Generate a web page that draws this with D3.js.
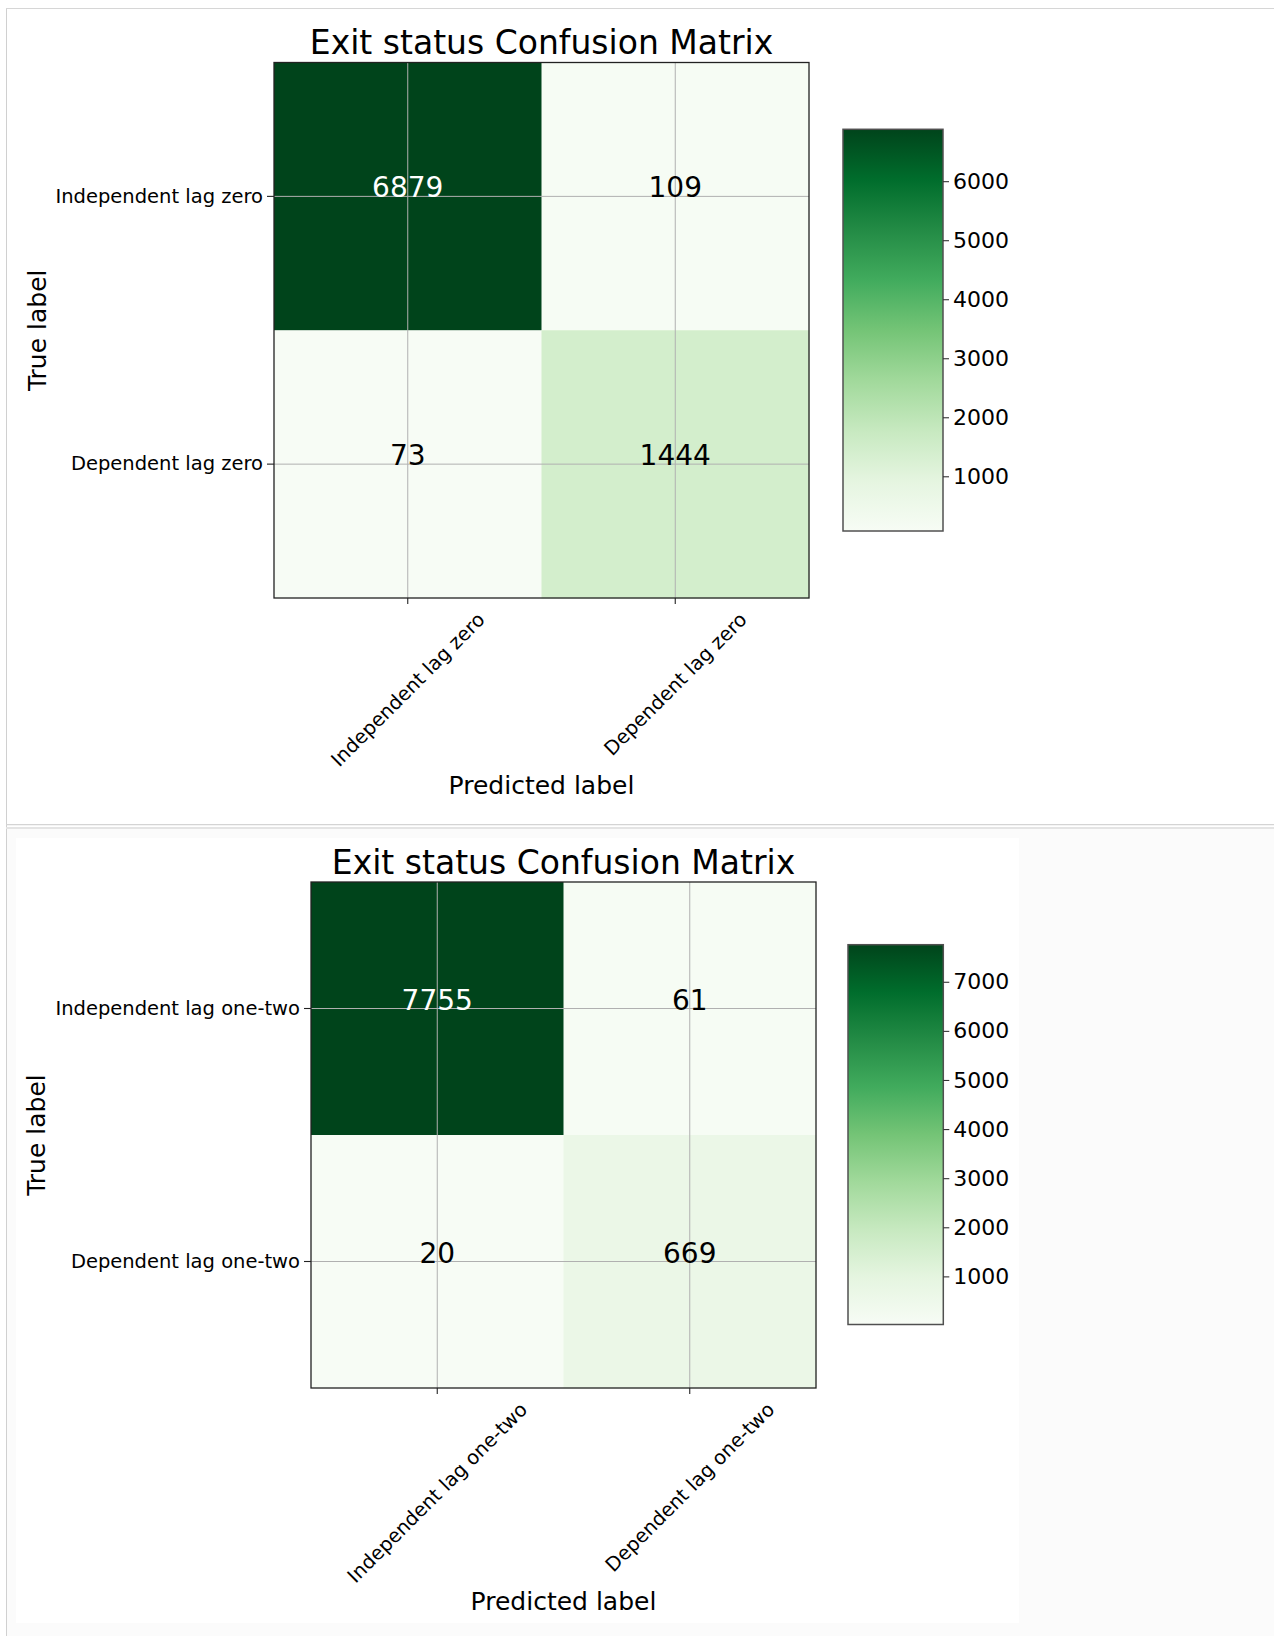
<!DOCTYPE html>
<html>
<head>
<meta charset="utf-8">
<script src="https://cdn.jsdelivr.net/npm/d3@7"></script>
<style>
  html, body { margin: 0; padding: 0; background: #ffffff; }
  svg { display: block; }
  text { font-family: "DejaVu Sans", sans-serif; }
</style>
</head>
<body>
<script>
// ---------------- data ----------------
const titleA = "Exit status Confusion Matrix";
const classesA = ["Independent lag zero", "Dependent lag zero"];
const matrixA = [[6879, 109], [73, 1444]];
const cbarTicksA = [1000, 2000, 3000, 4000, 5000, 6000];

const titleB = "Exit status Confusion Matrix";
const classesB = ["Independent lag one-two", "Dependent lag one-two"];
const matrixB = [[7755, 61], [20, 669]];
const cbarTicksB = [1000, 2000, 3000, 4000, 5000, 6000, 7000];

const xAxisLabel = "Predicted label";
const yAxisLabel = "True label";

// matplotlib "Greens" colormap anchor colours
const greens = ["#f7fcf5", "#e5f5e0", "#c7e9c0", "#a1d99b", "#74c476", "#41ab5d", "#238b45", "#006d2c", "#00441b"];

// ---------------- layout ----------------
const W = 1274, H = 1636;
const layoutA = { x0: 274, x1: 809, y0: 62.5, y1: 598, cb: { x0: 843, x1: 943, y0: 129.3, y1: 531 } };
const layoutB = { x0: 311, x1: 816, y0: 882, y1: 1388, cb: { x0: 848, x1: 943.3, y0: 944.7, y1: 1324.5 } };

const svg = d3.select("body").append("svg").attr("width", W).attr("height", H);
const defs = svg.append("defs");

// page frame
svg.append("rect").attr("x", 0).attr("y", 0).attr("width", W).attr("height", H).attr("fill", "#ffffff");
svg.append("rect").attr("x", 7).attr("y", 829).attr("width", W - 7).attr("height", H - 829).attr("fill", "#fbfbfb");
svg.append("rect").attr("x", 16).attr("y", 838).attr("width", 1003).attr("height", 785).attr("fill", "#ffffff");
svg.append("line").attr("x1", 6.5).attr("x2", 6.5).attr("y1", 8).attr("y2", H).attr("stroke", "#d0d0d0").attr("stroke-width", 1);
svg.append("line").attr("x1", 6).attr("x2", W).attr("y1", 8.5).attr("y2", 8.5).attr("stroke", "#d6d6d6").attr("stroke-width", 1);
svg.append("line").attr("x1", 6).attr("x2", W).attr("y1", 824.6).attr("y2", 824.6).attr("stroke", "#d4d4d4").attr("stroke-width", 1.4);
svg.append("line").attr("x1", 6).attr("x2", W).attr("y1", 828).attr("y2", 828).attr("stroke", "#e4e4e4").attr("stroke-width", 2);

function drawPanel(id, title, classes, matrix, cbarTicks, L) {
  const g = svg.append("g");
  const flat = matrix.flat();
  const vmin = d3.min(flat), vmax = d3.max(flat);
  const thresh = vmax / 2;

  const color = d3.scaleLinear()
    .domain(greens.map((_, i) => vmin + i * (vmax - vmin) / (greens.length - 1)))
    .range(greens)
    .interpolate(d3.interpolateRgb);

  const x = d3.scaleBand().domain(classes).range([L.x0, L.x1]).padding(0);
  const y = d3.scaleBand().domain(classes).range([L.y0, L.y1]).padding(0);

  const cells = [];
  matrix.forEach((row, i) => row.forEach((v, j) => cells.push({ t: classes[i], p: classes[j], v })));

  // cells
  g.selectAll("rect.cell").data(cells).enter().append("rect")
    .attr("class", "cell")
    .attr("x", d => x(d.p)).attr("y", d => y(d.t))
    .attr("width", x.bandwidth() + 0.5).attr("height", y.bandwidth() + 0.5)
    .attr("fill", d => color(d.v));

  // grid lines
  g.selectAll("line.gx").data(classes).enter().append("line")
    .attr("x1", d => x(d) + x.bandwidth() / 2).attr("x2", d => x(d) + x.bandwidth() / 2)
    .attr("y1", L.y0).attr("y2", L.y1)
    .attr("stroke", "#b0b0b0").attr("stroke-width", 1);
  g.selectAll("line.gy").data(classes).enter().append("line")
    .attr("y1", d => y(d) + y.bandwidth() / 2).attr("y2", d => y(d) + y.bandwidth() / 2)
    .attr("x1", L.x0).attr("x2", L.x1)
    .attr("stroke", "#b0b0b0").attr("stroke-width", 1);

  // values
  g.selectAll("text.val").data(cells).enter().append("text")
    .attr("x", d => x(d.p) + x.bandwidth() / 2)
    .attr("y", d => y(d.t) + y.bandwidth() / 2 + 1)
    .attr("text-anchor", "middle")
    .attr("font-size", 28)
    .attr("fill", d => d.v > thresh ? "#ffffff" : "#000000")
    .text(d => d.v);

  // frame
  g.append("rect").attr("x", L.x0).attr("y", L.y0)
    .attr("width", L.x1 - L.x0).attr("height", L.y1 - L.y0)
    .attr("fill", "none").attr("stroke", "#222").attr("stroke-width", 1.3);

  // left axis
  const tickFs = 19.5;
  const ay = g.append("g").attr("transform", `translate(${L.x0},0)`)
    .call(d3.axisLeft(y).tickSize(7).tickPadding(4));
  ay.select(".domain").remove();
  ay.selectAll(".tick line").attr("stroke", "#222").attr("stroke-width", 1.1);
  ay.selectAll(".tick text").attr("font-size", tickFs).attr("fill", "#000").attr("font-family", "DejaVu Sans");
  let maxYW = 0;
  ay.selectAll(".tick text").each(function () { maxYW = Math.max(maxYW, this.getComputedTextLength()); });

  // bottom axis
  const ax = g.append("g").attr("transform", `translate(0,${L.y1})`)
    .call(d3.axisBottom(x).tickSize(6).tickPadding(4));
  ax.select(".domain").remove();
  ax.selectAll(".tick line").attr("stroke", "#222").attr("stroke-width", 1.1);
  let maxBottom = 0;
  ax.selectAll(".tick text").each(function () {
    const t = d3.select(this)
      .attr("font-size", tickFs).attr("fill", "#000").attr("font-family", "DejaVu Sans")
      .attr("text-anchor", "middle").attr("y", 0).attr("dy", "0.35em");
    const w = this.getComputedTextLength();
    const h = (w / 2 + 0.37 * tickFs) * Math.SQRT1_2;
    t.attr("transform", `translate(0,${13 + h}) rotate(-45)`);
    maxBottom = Math.max(maxBottom, 13 + 2 * h);
  });

  // title
  g.append("text").attr("x", (L.x0 + L.x1) / 2).attr("y", L.y0 - 8.5)
    .attr("text-anchor", "middle").attr("font-size", 33).attr("fill", "#000")
    .text(title);

  // axis labels
  g.append("text").attr("x", (L.x0 + L.x1) / 2).attr("y", L.y1 + maxBottom + 26)
    .attr("text-anchor", "middle").attr("font-size", 25).attr("fill", "#000")
    .text(xAxisLabel);
  const ylx = L.x0 - 11 - maxYW - 10;
  g.append("text")
    .attr("transform", `translate(${ylx},${(L.y0 + L.y1) / 2}) rotate(-90)`)
    .attr("text-anchor", "middle").attr("font-size", 25).attr("fill", "#000")
    .text(yAxisLabel);

  // colorbar
  const cb = L.cb;
  const gradId = "grad" + id;
  const grad = defs.append("linearGradient").attr("id", gradId)
    .attr("x1", 0).attr("y1", 1).attr("x2", 0).attr("y2", 0);
  greens.forEach((c, i) => grad.append("stop").attr("offset", i / (greens.length - 1)).attr("stop-color", c));
  g.append("rect").attr("x", cb.x0).attr("y", cb.y0)
    .attr("width", cb.x1 - cb.x0).attr("height", cb.y1 - cb.y0)
    .attr("fill", `url(#${gradId})`)
    .attr("stroke", "#505050").attr("stroke-width", 1.5);
  const cscale = d3.scaleLinear().domain([vmin, vmax]).range([cb.y1, cb.y0]);
  const ac = g.append("g").attr("transform", `translate(${cb.x1},0)`)
    .call(d3.axisRight(cscale).tickValues(cbarTicks).tickSize(6).tickPadding(4).tickFormat(d3.format("d")));
  ac.select(".domain").remove();
  ac.selectAll(".tick line").attr("stroke", "#333").attr("stroke-width", 1.1);
  ac.selectAll(".tick text").attr("font-size", 22).attr("fill", "#000").attr("font-family", "DejaVu Sans");
}

drawPanel("A", titleA, classesA, matrixA, cbarTicksA, layoutA);
drawPanel("B", titleB, classesB, matrixB, cbarTicksB, layoutB);
</script>
</body>
</html>
